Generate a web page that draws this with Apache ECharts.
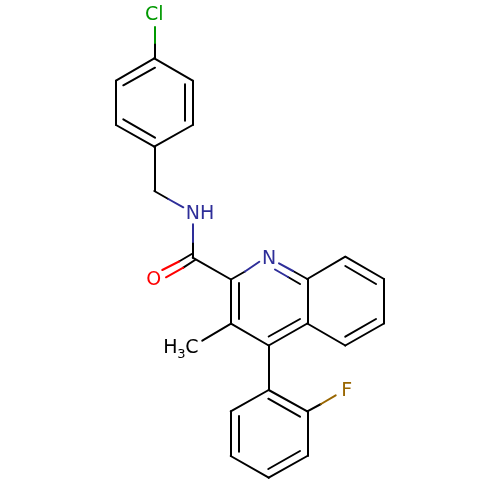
<!DOCTYPE html>
<html>
<head>
<meta charset="utf-8">
<style>html,body{margin:0;padding:0;background:#fff}#c{width:500px;height:500px}</style>
<script src="https://cdn.jsdelivr.net/npm/echarts@6/dist/echarts.min.js"></script>
</head>
<body>
<div id="c"></div>
<script>
// Bond segments: [x1, y1, x2, y2]
const blackBonds = [
  // chlorophenyl ring
  [154.3,58.3,192.7,80.7],[192.7,80.7,192.7,125],[192.7,125,154.3,146.7],
  [154.3,146.7,116,125],[116,125,116,80.7],[116,80.7,154.3,58.3],
  [155,67.7,123.3,85.3],[185,84.3,185,120.7],[123.3,119.3,155,137.7],
  [154.3,58.3,154.3,43],
  // linker
  [154.3,146.7,154.3,191],[154.3,191,168.3,199],
  [192.7,257.7,192.7,242],
  [191.7,254,179,261.5],[195,260,183.3,267.7],
  [192.7,257.7,231,279.5],
  // pyridine ring
  [231,279.5,245,271.5],[231,279.5,231,323.7],[238.7,283,238.7,319],
  [231,323.7,268.7,345.5],[268.7,345.5,307.3,323.5],[268.7,336.5,300,319],
  [307.3,323.5,307.3,279],[307.3,279,293,271],[300,284,288,277],
  // benzo ring
  [307.3,279,345.3,256.7],[345.3,256.7,384,279],[384,279,384,323.5],
  [384,323.5,345.3,345.5],[345.3,345.5,307.3,323.5],
  [345.3,266,376,284],[376,319,345.3,336.7],
  // methyl
  [231,323.7,202.3,340.7],
  // fluorophenyl ring
  [268.7,345.5,268.7,390],[268.7,390,307.3,411.3],[307.3,411.3,307.3,456],
  [307.3,456,268.7,477.7],[268.7,477.7,230.7,456],[230.7,456,230.7,411.3],
  [230.7,411.3,268.7,390],
  [268.3,398.7,300,416.7],[300,451,268.3,469],[238.7,416,238.7,451.7],
  [307.3,411.3,321,404]
];
const nitrogenBonds = [
  [168.3,199,183.3,207.3],[192.7,242,192.7,224.3],
  [245,271.5,259.3,261.7],[293,271,279,263.3],[288,277,275,269.5]
];
const oxygenBonds = [[179,261.5,162.3,270],[183.3,267.7,166,277.3]];
const chlorineBonds = [[154.3,43,154.3,27]];
const fluorineBonds = [[321,404,335.7,395.3]];

// Atom labels: [x, y, text, element, font size]
const atomLabels = [
  [154.3,15,'Cl','Cl',19],
  [200,214,'NH','N',19],
  [269,259,'N','N',19],
  [153.7,280,'O','O',19],
  [346.7,391.5,'F','F',19],
  [170.5,348,'H','C',19],
  [181.5,355,'3','C',13],
  [192,348,'C','C',19]
];
const elementColors = {C:'#000000',N:'#2e2e99',O:'#ff0000',Cl:'#009900',F:'#996600'};

function bondSeries(segments, color) {
  return {
    type: 'lines',
    coordinateSystem: 'cartesian2d',
    polyline: false,
    silent: true,
    lineStyle: {color: color, width: 2, opacity: 1, curveness: 0, cap: 'round'},
    data: segments.map(s => ({coords: [[s[0], s[1]], [s[2], s[3]]]}))
  };
}

const chart = echarts.init(document.getElementById('c'), null, {renderer: 'canvas'});
const font = 'DejaVu Sans';
chart.setOption({
  backgroundColor: '#ffffff',
  animation: false,
  grid: {left: 0, right: 0, top: 0, bottom: 0},
  xAxis: {type: 'value', min: 0, max: 500, show: false},
  yAxis: {type: 'value', min: 0, max: 500, inverse: true, show: false},
  series: [
    bondSeries(blackBonds, '#000000'),
    bondSeries(nitrogenBonds, elementColors.N),
    bondSeries(oxygenBonds, elementColors.O),
    bondSeries(chlorineBonds, elementColors.Cl),
    bondSeries(fluorineBonds, elementColors.F),
    {
      type: 'scatter',
      symbolSize: 1,
      silent: true,
      itemStyle: {color: 'rgba(0,0,0,0)', opacity: 1},
      data: atomLabels.map(a => ({
        value: [a[0], a[1]],
        label: {
          show: true,
          position: 'inside',
          opacity: 1,
          formatter: a[2],
          color: elementColors[a[3]],
          fontFamily: font,
          fontSize: a[4]
        }
      }))
    }
  ]
});
</script>
</body>
</html>
